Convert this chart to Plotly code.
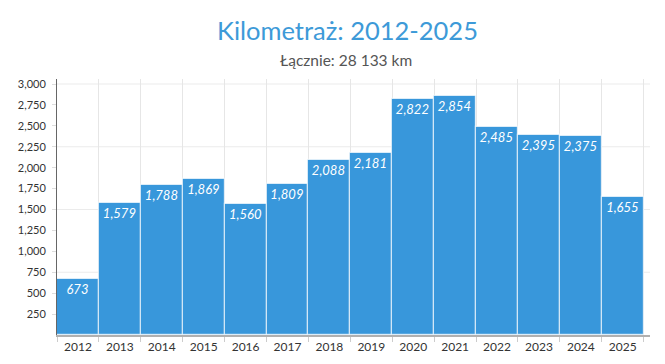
import plotly.graph_objects as go

years = ["2012", "2013", "2014", "2015", "2016", "2017", "2018",
         "2019", "2020", "2021", "2022", "2023", "2024", "2025"]
km = [673, 1579, 1788, 1869, 1560, 1809, 2088, 2181, 2822, 2854, 2485, 2395, 2375, 1655]
title_text = "Kilometraż: 2012-2025"
subtitle_text = "Łącznie: 28 133 km"
y_tick_step = 250
y_grid_step = 750
y_top_tick = 3000
y_max = 3060

FONT = "Lato"

fig = go.Figure(go.Bar(
    x=years, y=km,
    marker=dict(color="#3897db", line=dict(color="rgba(255,255,255,0.65)", width=1.2)),
    texttemplate="%{y:,}",
    textposition="inside",
    insidetextanchor="end",
    textfont=dict(family=FONT, size=13, color="white", style="italic"),
    hoverinfo="x+y",
))

shapes = []
v = y_grid_step
while v <= y_top_tick:
    shapes.append(dict(type="line", xref="paper", yref="y", x0=0, x1=1, y0=v, y1=v,
                       line=dict(color="#ebebeb", width=1.2), layer="below"))
    v += y_grid_step

# page body has an 8px default margin; figure is sized to compensate
fig.update_layout(
    width=657, height=356,
    margin=dict(l=49, r=15, t=71, b=29, autoexpand=False),
    paper_bgcolor="white", plot_bgcolor="white",
    bargap=0,
    showlegend=False,
    shapes=shapes,
    font=dict(family=FONT, color="#333"),
    annotations=[
        dict(text=title_text, xref="paper", yref="paper", x=0.5, y=1, yshift=49, xshift=-6,
             showarrow=False, font=dict(family=FONT, size=25.5, color="#3d9ad8"),
             xanchor="center", yanchor="middle"),
        dict(text=subtitle_text, xref="paper", yref="paper", x=0.5, y=1, yshift=19, xshift=-8,
             showarrow=False, font=dict(family=FONT, size=15.5, color="#555"),
             xanchor="center", yanchor="middle"),
    ],
    xaxis=dict(
        type="category",
        range=[-0.5, 13.65],
        tickson="boundaries",
        ticks="outside", ticklen=5, tickcolor="#cccccc", tickwidth=1,
        showgrid=True, gridcolor="#e6e6e6", gridwidth=1,
        showline=True, linecolor="#b0b0b0", linewidth=2,
        tickfont=dict(family=FONT, size=12, color="#333"),
        automargin=False,
        fixedrange=True,
    ),
    yaxis=dict(
        range=[0, y_max],
        tickvals=list(range(y_tick_step, y_top_tick + 1, y_tick_step)),
        tickformat=",",
        showgrid=False,
        zeroline=False,
        ticks="outside", ticklen=4, tickcolor="#dddddd", tickwidth=1,
        showline=True, linecolor="#666", linewidth=1,
        tickfont=dict(family=FONT, size=11, color="#333"),
        ticklabelstandoff=4,
        automargin=False,
        fixedrange=True,
    ),
)

fig.write_html("out.html")
